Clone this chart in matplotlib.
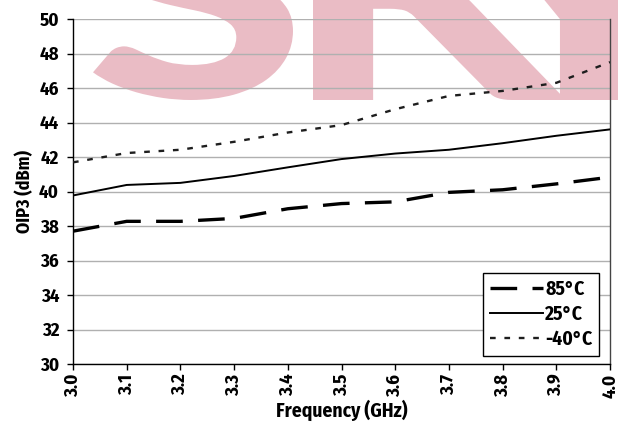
import matplotlib
matplotlib.use("Agg")
import matplotlib.pyplot as plt
from matplotlib.textpath import TextPath
from matplotlib.font_manager import FontProperties
from matplotlib.patches import PathPatch
from matplotlib.transforms import Affine2D

freq = [3.0, 3.1, 3.2, 3.3, 3.4, 3.5, 3.6, 3.7, 3.8, 3.9, 4.0]
oip3_85 = [37.7, 38.27, 38.27, 38.44, 39.0, 39.3, 39.4, 39.95, 40.1, 40.44, 40.83]
oip3_25 = [39.77, 40.38, 40.5, 40.9, 41.4, 41.88, 42.2, 42.42, 42.8, 43.23, 43.6]
oip3_m40 = [41.69, 42.23, 42.42, 42.88, 43.42, 43.85, 44.77, 45.54, 45.83, 46.3, 47.5]
labels = ["85°C", "25°C", "-40°C"]
xtick_labels = ["3.0", "3.1", "3.2", "3.3", "3.4", "3.5", "3.6", "3.7", "3.8", "3.9", "4.0"]
yticks = [30, 32, 34, 36, 38, 40, 42, 44, 46, 48, 50]
watermark = "SKY"

FONT = ["Fira Sans Condensed", "DejaVu Sans"]
plt.rcParams['font.family'] = FONT
plt.rcParams['font.weight'] = 'bold'

W, H = 618, 425
fig = plt.figure(figsize=(W / 100, H / 100), dpi=100)

# watermark (pixel placement, stretched heavy letters)
wm_color = "#eabcc5"
fp = FontProperties(family=["Lato", "DejaVu Sans"], weight=900)
s_path = TextPath((0, 0), watermark[0], size=1, prop=fp)
ext = s_path.get_extents()
sx = 200 / ext.width
sy = 215 / ext.height
base_y = H - 100  # bottom of letters, from figure bottom
anchors = [("left", 93), ("left", 313), ("center", 590)]
for ch, (mode, xpos) in zip(watermark, anchors):
    p = TextPath((0, 0), ch, size=1, prop=fp)
    e = p.get_extents()
    x0 = xpos if mode == "left" else xpos - e.width * sx / 2
    tr = Affine2D().translate(-e.x0, -e.y0).scale(sx, sy).translate(x0, base_y)
    fig.add_artist(PathPatch(p, transform=tr, facecolor=wm_color, edgecolor='none', zorder=0))

ax = fig.add_axes([73 / W, 1 - 364 / H, (610 - 73) / W, (364 - 19) / H])
ax.patch.set_alpha(0)
ax.set_zorder(1)

ax.plot(freq, oip3_85, color="black", lw=2.4, dashes=(8.0, 4.6), label=labels[0], zorder=3)
ax.plot(freq, oip3_25, color="black", lw=1.4, label=labels[1], zorder=3)
ax.plot(freq, oip3_m40, color="#1e1e1e", lw=1.7, dashes=(2.4, 3.7), label=labels[2], zorder=3)

ax.set_xlim(3.0, 4.0)
ax.set_ylim(30, 50)
ax.set_xticks(freq)
ax.set_xticklabels(xtick_labels, rotation=90, fontsize=13.5, fontweight='bold')
ax.set_yticks(yticks)
ax.set_yticklabels([str(v) for v in yticks], fontsize=13.5, fontweight='bold')
ax.yaxis.grid(True, color="#b0b0b0", lw=1.0)
ax.set_axisbelow(True)
ax.tick_params(axis='y', direction='out', length=4, width=1, color='black', pad=6)
ax.tick_params(axis='x', direction='out', length=4, width=1, color='black', pad=3)
for s in ['left', 'bottom']:
    ax.spines[s].set_color('black')
    ax.spines[s].set_linewidth(1.0)
ax.spines['right'].set_color('#444444')
ax.spines['right'].set_linewidth(1.0)
ax.spines['top'].set_visible(False)

ax.set_xlabel("Frequency (GHz)", fontsize=14, fontweight='bold', labelpad=1)
ax.set_ylabel("OIP3 (dBm)", fontsize=13, fontweight='bold', labelpad=4)

leg = ax.legend(loc='upper left', bbox_to_anchor=((483 - 73) / 537, (364 - 273) / 345),
                fontsize=14, frameon=True, fancybox=False, edgecolor='black', framealpha=1,
                handlelength=2.75, handletextpad=0.1, borderpad=0.35, labelspacing=0.28,
                borderaxespad=0)
leg.get_frame().set_linewidth(1.0)
for t in leg.get_texts():
    t.set_fontweight('bold')

fig.savefig("out.png", dpi=100)
